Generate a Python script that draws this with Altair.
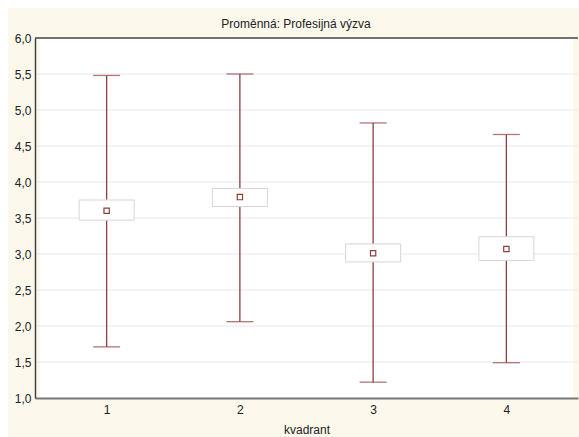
import altair as alt
import pandas as pd

# --- data ---
quadrant = [1, 2, 3, 4]
mean = [3.60, 3.79, 3.01, 3.07]
box_lo = [3.47, 3.66, 2.89, 2.91]
box_hi = [3.75, 3.91, 3.14, 3.24]
whisk_lo = [1.71, 2.06, 1.22, 1.49]
whisk_hi = [5.48, 5.50, 4.82, 4.66]

y_ticks = [1.0, 1.5, 2.0, 2.5, 3.0, 3.5, 4.0, 4.5, 5.0, 5.5, 6.0]
x_domain = [0.5, 4.5]
y_domain = [1.0, 6.0]

title_text = "Proměnná: Profesijná výzva"
x_title = "kvadrant"

df = pd.DataFrame({
    "quadrant": quadrant, "mean": mean, "box_lo": box_lo, "box_hi": box_hi,
    "whisk_lo": whisk_lo, "whisk_hi": whisk_hi,
})
grid_df = pd.DataFrame({"g": y_ticks[1:-1]})
top_df = pd.DataFrame({"g": [y_ticks[-1]]})
plot_df = pd.DataFrame({"x0": [x_domain[0]], "x1": [x_domain[1]],
                        "y0": [y_domain[0]], "y1": [y_domain[1]]})

RED = "#8f3d3d"
CREAM = "#fcf8ec"
FONT = "Liberation Sans"
W, H = 543, 360

xscale = alt.Scale(domain=x_domain, nice=False, zero=False)
yscale = alt.Scale(domain=y_domain, nice=False, zero=False)
xaxis = alt.Axis(values=quadrant, format="d", grid=False, ticks=False,
                 domainColor="#777", domainWidth=2, labelFontSize=12,
                 labelColor="#222", labelFont=FONT, labelPadding=6,
                 title=x_title, titleFont=FONT, titleFontSize=12,
                 titleFontWeight="normal", titleColor="#222", titlePadding=9,
                 zindex=1)
yaxis = alt.Axis(values=y_ticks, grid=False, ticks=False,
                 labelExpr="replace(format(datum.value, '.1f'), '.', ',')",
                 domainColor="#444", domainWidth=1.5, labelFontSize=12,
                 labelColor="#222", labelFont=FONT, labelPadding=4,
                 title=None, zindex=1)


def X(f):
    return alt.X(f, type="quantitative", scale=xscale, axis=xaxis)


def Y(f):
    return alt.Y(f, type="quantitative", scale=yscale, axis=yaxis)


blank = alt.Data(values=[{}])

cream = alt.Chart(blank).mark_rect(color=CREAM).encode(
    x=alt.value(-27), x2=alt.value(W + 5), y=alt.value(-30), y2=alt.value(H + 45))

title = alt.Chart(blank).mark_text(
    text=title_text, font=FONT, fontSize=12, color="#222",
    align="center", baseline="alphabetic").encode(
    x=alt.value(261), y=alt.value(-10))

plot_bg = alt.Chart(plot_df).mark_rect(color="white").encode(
    x=X("x0"), x2="x1", y=Y("y0"), y2="y1")

grid = alt.Chart(grid_df).mark_rule(color="#e8e8e8", strokeWidth=1).encode(y=Y("g"))

top = alt.Chart(top_df).mark_rule(color="#444", strokeWidth=1.5).encode(y=Y("g"))

whisk = alt.Chart(df).mark_rule(color=RED, strokeWidth=1.3).encode(
    x=X("quadrant"), y=Y("whisk_lo"), y2="whisk_hi")

cap_hi = alt.Chart(df).mark_tick(color=RED, orient="horizontal", size=27,
                                 thickness=1.3).encode(x=X("quadrant"), y=Y("whisk_hi"))
cap_lo = alt.Chart(df).mark_tick(color=RED, orient="horizontal", size=27,
                                 thickness=1.3).encode(x=X("quadrant"), y=Y("whisk_lo"))

box = alt.Chart(df).mark_bar(size=55, fill="white", stroke="#d6d6d6",
                             strokeWidth=1).encode(
    x=X("quadrant"), y=Y("box_lo"), y2="box_hi")

pt = alt.Chart(df).mark_square(size=28, filled=False, fill="white", stroke=RED,
                               strokeWidth=1.2, opacity=1).encode(
    x=X("quadrant"), y=Y("mean"))

chart = alt.layer(cream, title, plot_bg, grid, top, whisk, cap_hi, cap_lo, box, pt).properties(
    width=W, height=H,
    autosize=alt.AutoSizeParams(type="none"),
    padding={"left": 35, "top": 38, "right": 1, "bottom": 39},
    background="white",
).configure_view(stroke=None)

chart.save("out.html", embed_options={"renderer": "svg", "actions": False})
